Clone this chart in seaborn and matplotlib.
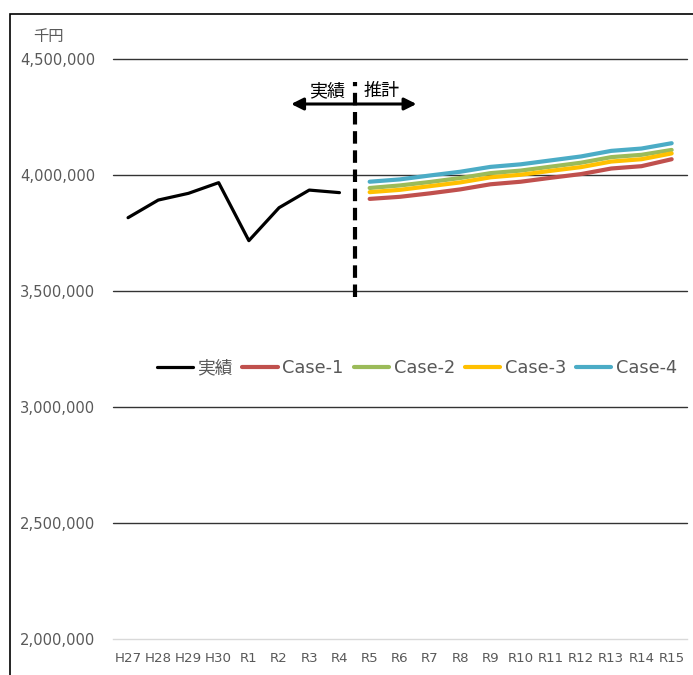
import numpy as np
import pandas as pd
import matplotlib
matplotlib.use('Agg')
import matplotlib.pyplot as plt
from matplotlib.patches import Rectangle
from matplotlib.ticker import FuncFormatter
import seaborn as sns

# Data (千円)
categories = ['H27', 'H28', 'H29', 'H30', 'R1', 'R2', 'R3', 'R4', 'R5', 'R6',
              'R7', 'R8', 'R9', 'R10', 'R11', 'R12', 'R13', 'R14', 'R15']
actual_labels = categories[:8]
forecast_labels = categories[8:]
actual = [3816000, 3892000, 3921000, 3967000, 3717000, 3859000, 3935000, 3924000]
case1 = [3897000, 3906000, 3921000, 3938000, 3960000, 3971000, 3988000, 4004000, 4028000, 4038000, 4068000]
case2 = [3944000, 3955000, 3970000, 3987000, 4008000, 4019000, 4036000, 4053000, 4077000, 4087000, 4108000]
case3 = [3926000, 3936000, 3952000, 3968000, 3990000, 4001000, 4018000, 4034000, 4058000, 4068000, 4093000]
case4 = [3971000, 3981000, 3998000, 4014000, 4035000, 4046000, 4063000, 4080000, 4104000, 4114000, 4137000]
case_names = ['Case-1', 'Case-2', 'Case-3', 'Case-4']
case_colors = ['#C0504D', '#9BBB59', '#FFC000', '#4BACC6']
y_ticks = [2000000, 2500000, 3000000, 3500000, 4000000, 4500000]

sns.set_style('white')
plt.rcParams['font.family'] = ['DejaVu Sans', 'Noto Sans CJK JP']

pos = {c: i for i, c in enumerate(categories)}
df_act = pd.DataFrame({'x': [pos[c] for c in actual_labels], 'value': actual})
df_fc = pd.concat([
    pd.DataFrame({'x': [pos[c] for c in forecast_labels], 'value': vals, 'series': name})
    for name, vals in zip(case_names, [case1, case2, case3, case4])
])

fig = plt.figure(figsize=(6.93, 6.75), dpi=100)
ax = fig.add_axes([0.163, 0.0533, 0.828, 0.8593])

# gridlines
for yv in y_ticks[1:]:
    ax.axhline(yv, color='#333333', lw=1, zorder=0, clip_on=False)

sns.lineplot(data=df_act, x='x', y='value', color='black', lw=2.3,
             label='実績', estimator=None, ax=ax)
sns.lineplot(data=df_fc, x='x', y='value', hue='series', hue_order=case_names,
             palette=case_colors, lw=3, estimator=None, ax=ax)

# boundary between actual and forecast
ax.vlines(7.5, 3475000, 4400000, colors='black', lw=3,
          linestyles=(0, (3, 1.6)), zorder=5)
ax.annotate('', xy=(5.4, 4306000), xytext=(9.55, 4306000),
            arrowprops=dict(arrowstyle='<|-|>', color='black', lw=2.2,
                            mutation_scale=18, shrinkA=0, shrinkB=0))
ax.text(6.6, 4362000, '実績', ha='center', va='center', fontsize=13, color='black')
ax.text(8.4, 4362000, '推計', ha='center', va='center', fontsize=13, color='black')

ax.set_xlim(-0.5, len(categories) - 0.5)
ax.set_ylim(y_ticks[0], y_ticks[-1])
ax.set_xticks(range(len(categories)))
ax.set_xticklabels(categories)
ax.set_yticks(y_ticks)
ax.yaxis.set_major_formatter(FuncFormatter(lambda v, p: f'{v:,.0f}'))
ax.tick_params(axis='y', labelsize=10.6, colors='#595959', length=0, pad=13)
ax.tick_params(axis='x', labelsize=9.6, colors='#595959', length=0, pad=9)
ax.set_xlabel('')
ax.set_ylabel('')
for s in ['top', 'right', 'left']:
    ax.spines[s].set_visible(False)
ax.spines['bottom'].set_color('#D9D9D9')
ax.spines['bottom'].set_linewidth(1)

handles, labels = ax.get_legend_handles_labels()
ax.legend(handles, labels, loc='center left', bbox_to_anchor=(0.077, 0.467),
          ncol=5, frameon=False, fontsize=12.8, handlelength=2.0,
          handletextpad=0.25, columnspacing=0.55, borderpad=0,
          borderaxespad=0, labelcolor='#595959')

fig.text(48 / 693, 1 - 37 / 675, '千円', ha='center', va='center',
         fontsize=11, color='#595959')

# chart frame
fig.patches.append(Rectangle((10 / 693, -0.05), 1.0, 1.05 - 14 / 675,
                             transform=fig.transFigure, fill=False,
                             edgecolor='black', lw=1.2))

fig.savefig('out.png', dpi=100)
